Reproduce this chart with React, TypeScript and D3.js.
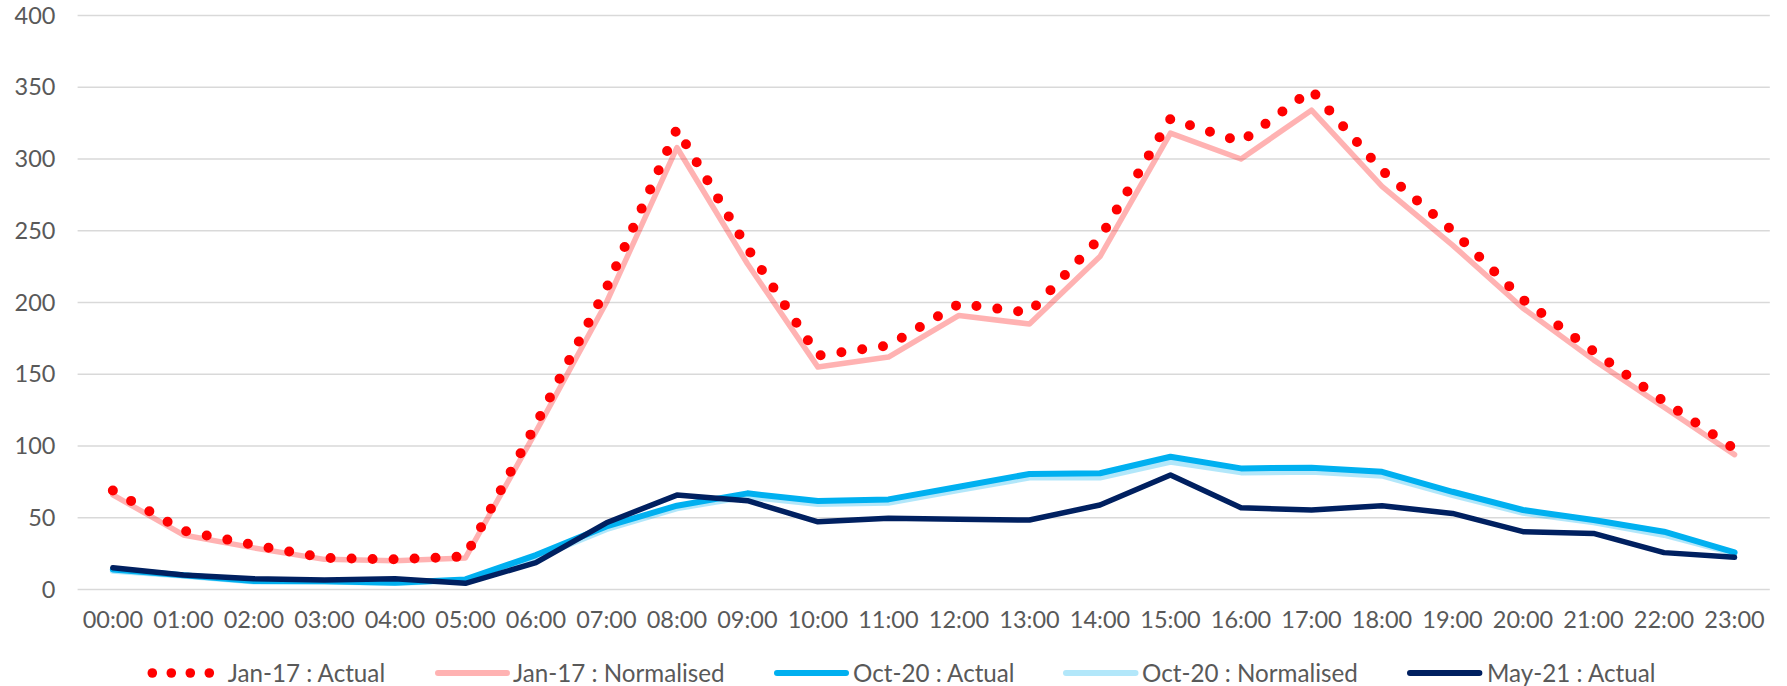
import React from "react";
import * as d3 from "d3";

const hours = ["00:00","01:00","02:00","03:00","04:00","05:00","06:00","07:00","08:00","09:00","10:00","11:00","12:00","13:00","14:00","15:00","16:00","17:00","18:00","19:00","20:00","21:00","22:00","23:00"];
const jan17Actual = [69,41,31,22,21,23,115,210,321,238,163,170,199,193,245,328,312,348,292,250,202,166,131,98];
const jan17Norm = [66,38,29,21,20,22,110,200,308,227,155,162,191,185,232,318,300,334,281,240,196,160,127,94];
const oct20Actual = [14,10,6,5.8,4.7,7,24,44,58.4,67,61.6,62.8,71.6,80.5,81,92.5,84.4,84.9,82,68.1,55.4,48.4,40.3,25.9];
const oct20Norm = [13,9.5,5.5,5.5,4.5,6.5,22,42,56.6,64.7,59.6,60.5,69.3,78,78,89,81.6,82,79.3,65.8,53.5,46.8,38,25.2];
const may21Actual = [15.2,10.1,7.5,6.6,7.5,4.3,18.7,46.5,65.8,61.9,47.2,49.6,48.9,48.4,58.9,79.8,57,55.4,58.4,53,40.3,39.1,25.7,22.4];
const yTicks = [0,50,100,150,200,250,300,350,400];

const W = 1787, H = 686;
const FONT = "Lato, 'Open Sans', sans-serif";
const TXT = "#595959";

export default function App() {
  const x = d3.scaleBand<string>().domain(hours).range([77.6, 1769.8]).padding(0);
  const y = d3.scaleLinear().domain([0, 400]).range([589.5, 15.5]);
  const cx = (h: string) => (x(h) as number) + x.bandwidth() / 2;
  const line = (vals: number[]) =>
    d3.line<number>().x((_, i) => cx(hours[i])).y((v) => y(v))(vals) as string;

  const series = [
    { key: "jn", vals: jan17Norm, color: "rgba(255,0,0,0.3)", w: 5.5 },
    { key: "ja", vals: jan17Actual, color: "#FF0000", w: 10, dash: "0 21" },
    { key: "on", vals: oct20Norm, color: "rgba(0,176,240,0.3)", w: 6 },
    { key: "oa", vals: oct20Actual, color: "#00B0F0", w: 6 },
    { key: "ma", vals: may21Actual, color: "#002060", w: 5.5 },
  ];

  const legendY = 673;
  const legend = [
    { label: "Jan-17 : Actual", x0: 152.3, x1: 209.3, tx: 227.7, color: "#FF0000", dots: true, w: 9 },
    { label: "Jan-17 : Normalised", x0: 438, x1: 507, tx: 513, color: "rgba(255,0,0,0.3)", w: 6 },
    { label: "Oct-20 : Actual", x0: 777, x1: 846, tx: 853, color: "#00B0F0", w: 6 },
    { label: "Oct-20 : Normalised", x0: 1066, x1: 1135.5, tx: 1142, color: "rgba(0,176,240,0.3)", w: 6 },
    { label: "May-21 : Actual", x0: 1410, x1: 1479.4, tx: 1487, color: "#002060", w: 6 },
  ];

  return (
    <svg width={W} height={H} style={{ position: "absolute", left: 0, top: 0, background: "#fff" }} fontFamily={FONT}>
      <rect x={0} y={0} width={W} height={H} fill="#fff" />
      {yTicks.map((t) => (
        <g key={t}>
          <line x1={77.6} x2={1769.8} y1={y(t)} y2={y(t)} stroke="#D9D9D9" strokeWidth={1.4} />
          <text x={55.5} y={y(t)} dy="0.35em" textAnchor="end" fontSize={23.5} fill={TXT}>{t}</text>
        </g>
      ))}
      {hours.map((h) => (
        <text key={h} x={cx(h)} y={628.3} textAnchor="middle" fontSize={23.5} fill={TXT}>{h}</text>
      ))}
      {series.map((s) => (
        <path key={s.key} d={line(s.vals)} fill="none" stroke={s.color} strokeWidth={s.w}
          strokeLinejoin="round" strokeLinecap="round" strokeDasharray={s.dash} />
      ))}
      {legend.map((l) => (
        <g key={l.label}>
          {l.dots
            ? [0, 1, 2, 3].map((i) => (
                <circle key={i} cx={l.x0 + (i * (l.x1 - l.x0)) / 3} cy={legendY} r={4.8} fill={l.color} />
              ))
            : <line x1={l.x0} x2={l.x1} y1={legendY} y2={legendY} stroke={l.color} strokeWidth={l.w} strokeLinecap="round" />}
          <text x={l.tx} y={681.7} fontSize={24.2} fill={TXT}>{l.label}</text>
        </g>
      ))}
    </svg>
  );
}
